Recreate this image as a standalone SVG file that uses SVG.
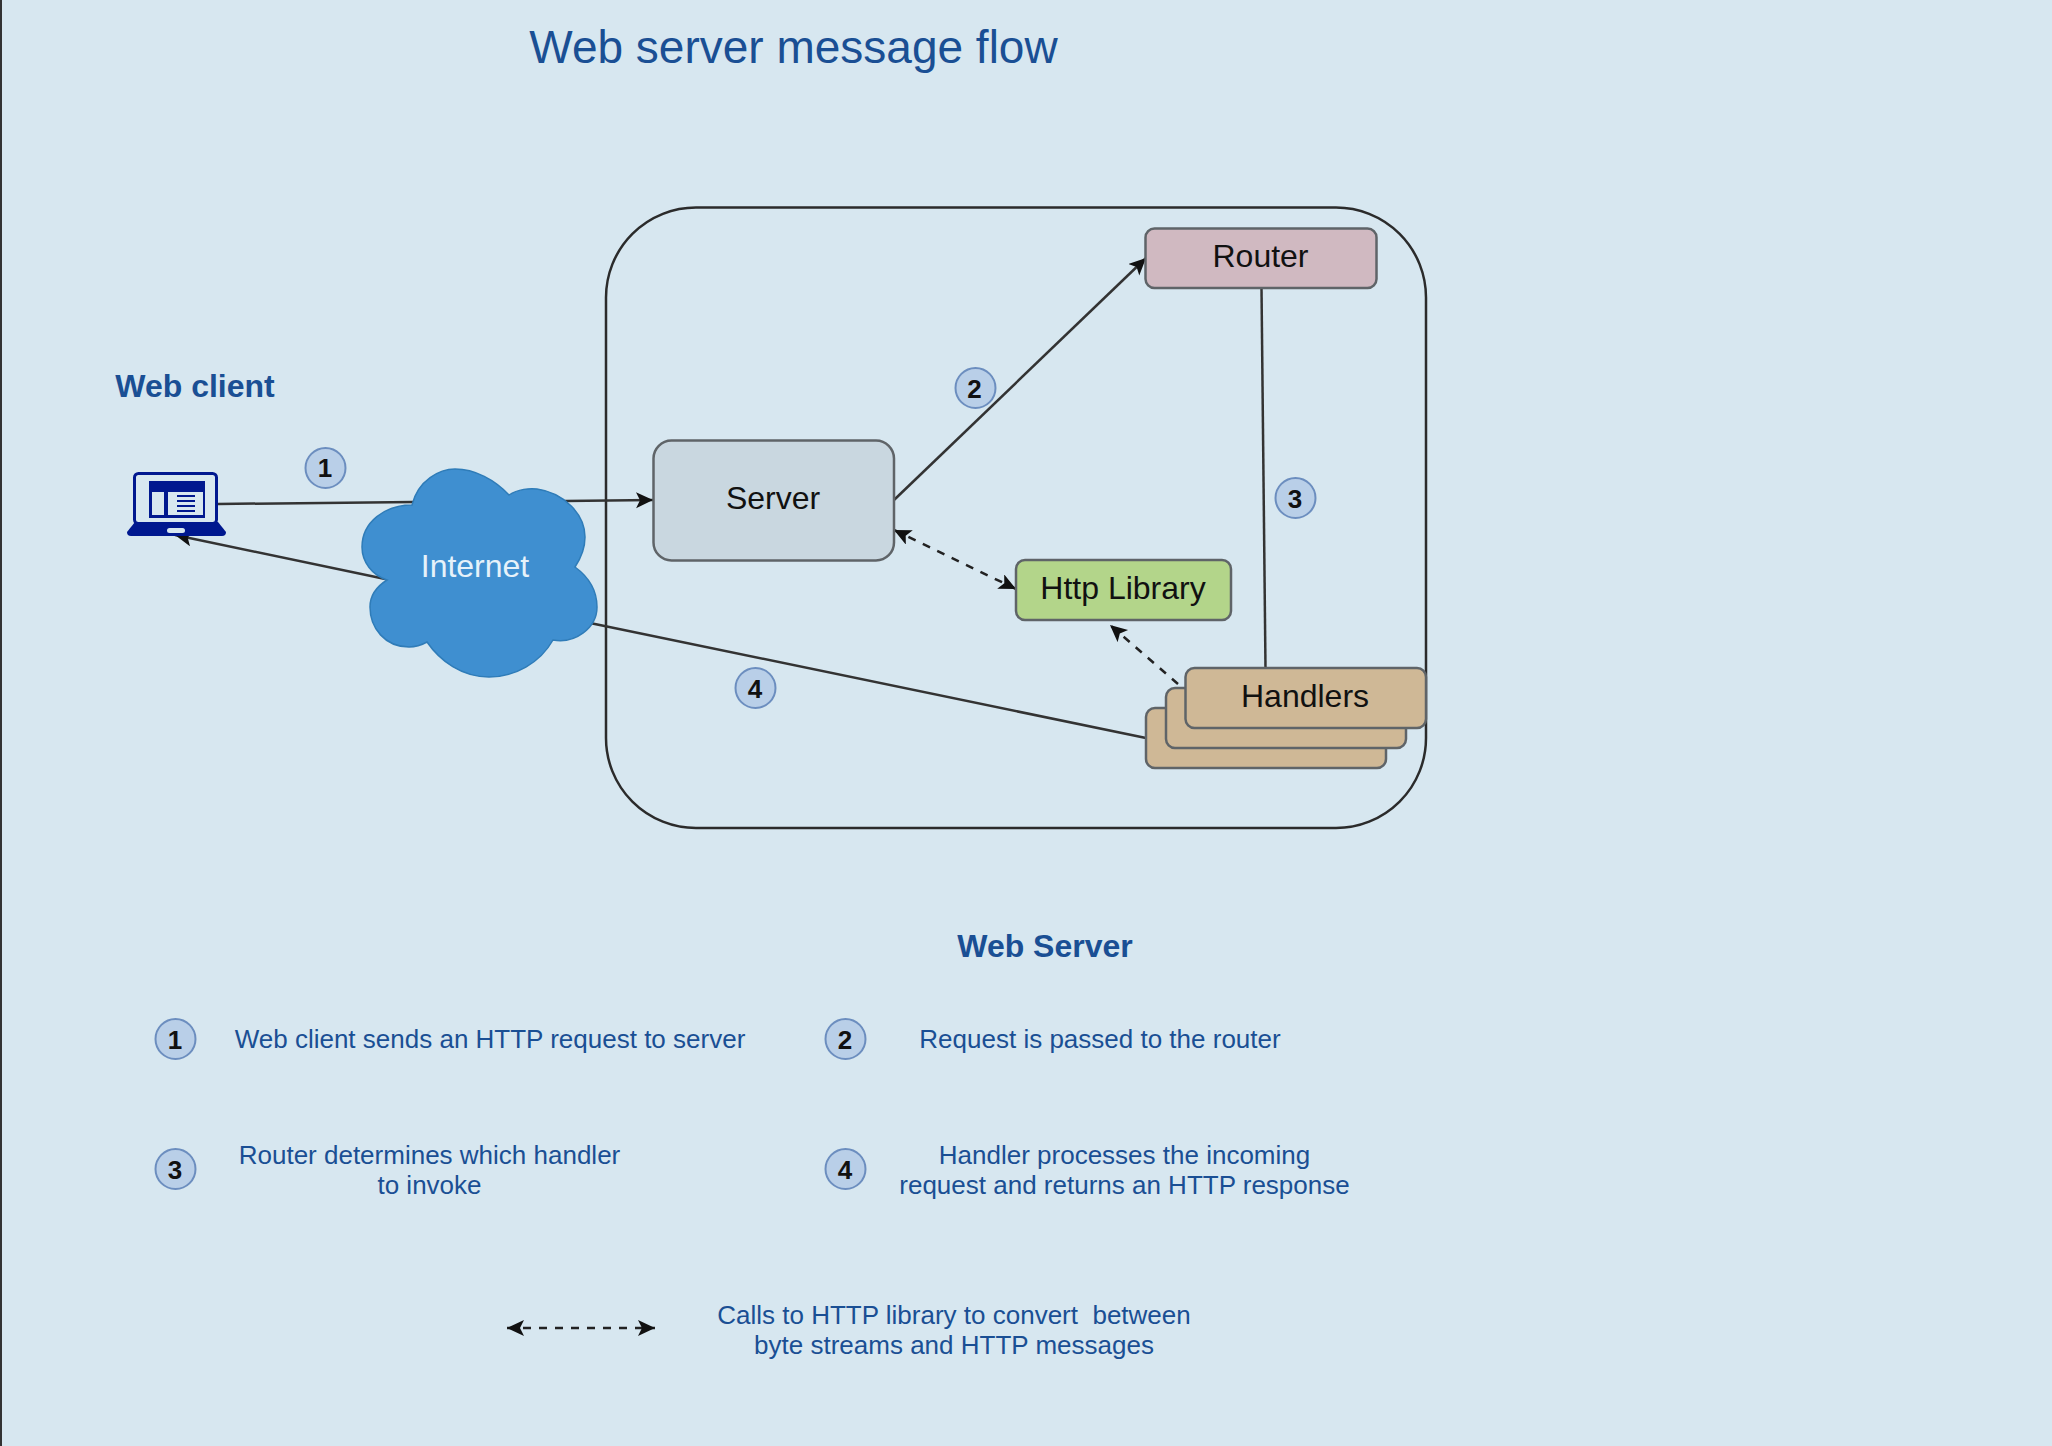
<svg xmlns="http://www.w3.org/2000/svg" width="2052" height="1446" viewBox="0 0 2052 1446">
<style>
text{font-family:"Liberation Sans",Arial,sans-serif;text-anchor:middle}
.blue{fill:#1a4f94;font-size:26px}
.head{fill:#1a4f94;font-size:32px;font-weight:bold}
.lab{fill:#111;font-size:32px}
.box{stroke:#5f6468;stroke-width:2.5}
.badge circle{fill:#b9cfe8;stroke:#6c8ebf;stroke-width:2}
.badge text{fill:#111;font-size:26px;font-weight:bold}
.c{fill:none;stroke:#333;stroke-width:2.5}
.a{marker-end:url(#arrow)}
.d{stroke-dasharray:8 8;stroke:#222}
.ds{marker-start:url(#arrow)}
.ic{fill:#00188f;stroke:none}
.lt{fill:#d7e7f0;stroke:none}
.io{fill:none;stroke:#00188f;stroke-width:3}
</style>
<defs>
<marker id="arrow" markerUnits="userSpaceOnUse" markerWidth="20" markerHeight="18" refX="17" refY="8" orient="auto-start-reverse">
<path d="M0 0L17 8L0 16L4 8Z" fill="#111"/>
</marker>
</defs>
<rect width="2052" height="1446" fill="#d7e7f0"/>
<rect width="2" height="1446" fill="#333"/>
<text id="title" x="793.500" y="63" style="font-size:46px;fill:#1a4f94">Web server message flow</text>
<g id="web-server-boundary">
<rect x="606" y="207.500" width="820" height="620.500" rx="90" fill="none" stroke="#2b2b2b" stroke-width="2.5"/>
<text class="head" x="1045" y="957">Web Server</text>
</g>
<g id="connectors">
<path class="c" d="M218 504L414 502"/>
<path class="c a" d="M565 501L653 500"/>
<path class="c a" d="M390 580L175 535"/>
<path class="c" d="M1146 738L590 623"/>
<path class="c a" d="M894 500L1146 258"/>
<path class="c" d="M1261.500 288L1265.500 668"/>
<path class="c d a ds" d="M894 530L1016 589"/>
<path class="c d a" d="M1178 684L1110 625"/>
<path class="c d a ds" d="M507 1328L655 1328"/>
</g>
<g id="web-client">
<text class="head" x="195" y="397">Web client</text>
<rect class="io" x="134.500" y="473.500" width="82" height="50" rx="4"/>
<rect class="ic" x="149" y="481" width="56" height="37"/>
<rect class="lt" x="152" y="492" width="12" height="23"/>
<rect class="lt" x="168" y="492" width="35" height="23"/>
<path class="io" d="M177 496H195M177 501H195M177 506H195M177 511H195" style="stroke-width:2"/>
<path class="ic" d="M135 522H218L226 532Q226 536 222 536H131Q127 536 127 532Z"/>
<rect x="167" y="528" width="18" height="5" rx="2.500" fill="#d7e7f0"/>
</g>
<g id="internet">
<path d="M412 505C418 480 440 469 455 469C475 469 495 480 509 495C518 489 530 488 537 489C565 493 585 515 585 537C585 548 581 558 575 567C590 578 597 592 597 607C597 628 575 644 553 640C540 663 515 677 489 677C462 677 440 661 427 642C420 646 414 647 409 647C385 647 370 628 370 607C370 597 376 587 387 580C372 575 362 562 362 547C362 522 385 505 412 505Z" fill="#3f8fd0" stroke="#2f7cb8" stroke-width="1.500"/>
<text x="475" y="577" style="font-size:32px;fill:#e6f2fa">Internet</text>
</g>
<g id="server">
<rect class="box" x="653.500" y="440.500" width="240.500" height="120" rx="18" fill="#c9d7e0"/>
<text class="lab" x="773" y="509">Server</text>
</g>
<g id="router">
<rect class="box" x="1145.500" y="228.500" width="231" height="59.500" rx="9" fill="#d0b9c1"/>
<text class="lab" x="1260.500" y="267">Router</text>
</g>
<g id="http-library">
<rect class="box" x="1016" y="560" width="215" height="60" rx="9" fill="#b3d58a"/>
<text class="lab" x="1123" y="599">Http Library</text>
</g>
<g id="handlers">
<rect class="box" x="1146" y="708" width="240" height="60" rx="9" fill="#cfb896"/>
<rect class="box" x="1166" y="688" width="240" height="60" rx="9" fill="#cfb896"/>
<rect class="box" x="1185.500" y="668" width="240.500" height="60" rx="9" fill="#cfb896"/>
<text class="lab" x="1305" y="707">Handlers</text>
</g>
<g id="badge-flow-1" class="badge"><circle cx="325.500" cy="468" r="20"/><text x="325" y="477">1</text></g>
<g id="badge-flow-2" class="badge"><circle cx="975.500" cy="388" r="20"/><text x="974.500" y="397.500">2</text></g>
<g id="badge-flow-3" class="badge"><circle cx="1295.500" cy="498" r="20"/><text x="1295" y="507.500">3</text></g>
<g id="badge-flow-4" class="badge"><circle cx="755.500" cy="688" r="20"/><text x="755" y="697.500">4</text></g>
<g id="legend-1">
<g class="badge"><circle cx="175.500" cy="1039" r="20"/><text x="175" y="1048.500">1</text></g>
<text class="blue" x="490" y="1048">Web client sends an HTTP request to server</text>
</g>
<g id="legend-2">
<g class="badge"><circle cx="845.500" cy="1039" r="20"/><text x="845" y="1048.500">2</text></g>
<text class="blue" x="1100" y="1048">Request is passed to the router</text>
</g>
<g id="legend-3">
<g class="badge"><circle cx="175.500" cy="1169" r="20"/><text x="175" y="1178.500">3</text></g>
<text class="blue" x="429.500" y="1164">Router determines which handler</text>
<text class="blue" x="429.500" y="1194">to invoke</text>
</g>
<g id="legend-4">
<g class="badge"><circle cx="845.500" cy="1169" r="20"/><text x="845" y="1178.500">4</text></g>
<text class="blue" x="1124.500" y="1164">Handler processes the incoming</text>
<text class="blue" x="1124.500" y="1194">request and returns an HTTP response</text>
</g>
<g id="legend-dashed">
<text class="blue" x="954" y="1324" xml:space="preserve">Calls to HTTP library to convert  between</text>
<text class="blue" x="954" y="1354">byte streams and HTTP messages</text>
</g>
</svg>
